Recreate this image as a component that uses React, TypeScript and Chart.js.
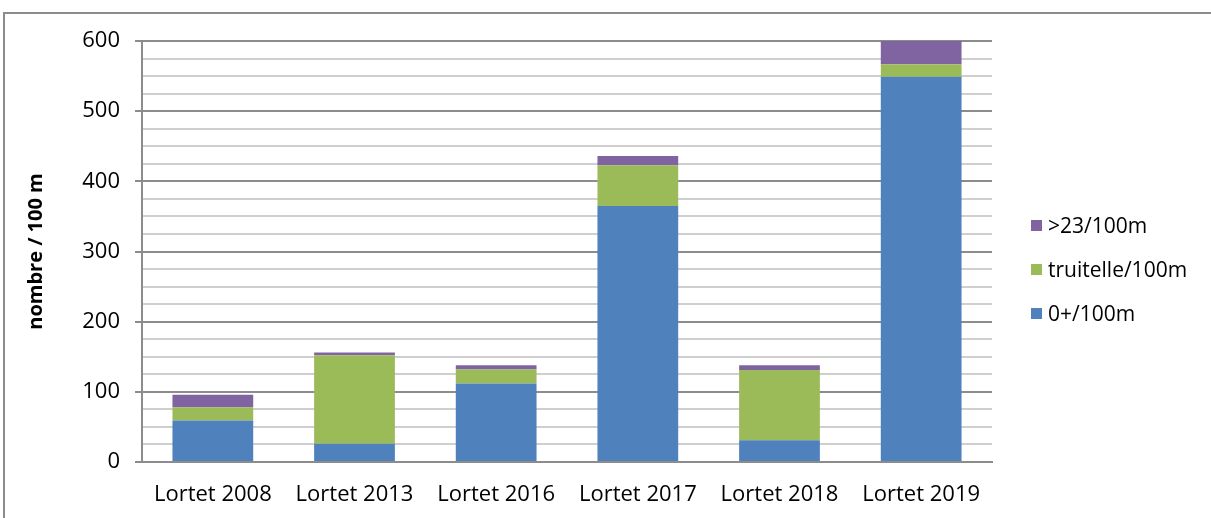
import React, { useEffect, useRef } from "react";
import { Chart, registerables } from "chart.js";

Chart.register(...registerables);

const categories = ["Lortet 2008", "Lortet 2013", "Lortet 2016", "Lortet 2017", "Lortet 2018", "Lortet 2019"];
const juvenile = [59, 26, 112, 365, 31, 549];
const truitelle = [19, 126, 20, 58, 100, 18];
const adults = [18, 4, 6, 13, 7, 33];
const seriesNames = ["0+/100m", "truitelle/100m", ">23/100m"];
const seriesColors = ["#4F81BD", "#9BBB59", "#8064A2"];
const yTitle = "nombre / 100 m";

const FONT = "'Open Sans', 'Noto Sans', sans-serif";

export default function App() {
  const ref = useRef<HTMLCanvasElement | null>(null);

  useEffect(() => {
    if (!ref.current) return;
    const chart = new Chart(ref.current, {
      type: "bar",
      data: {
        labels: categories,
        datasets: [
          { label: seriesNames[0], data: juvenile, backgroundColor: seriesColors[0] },
          { label: seriesNames[1], data: truitelle, backgroundColor: seriesColors[1] },
          { label: seriesNames[2], data: adults, backgroundColor: seriesColors[2] },
        ],
      },
      options: {
        animation: false,
        responsive: false,
        layout: { padding: { left: 24, right: 219, top: 41, bottom: 0 } },
        datasets: { bar: { categoryPercentage: 1, barPercentage: 0.57 } },
        plugins: { legend: { display: false }, tooltip: { enabled: false } },
        scales: {
          x: {
            stacked: true,
            grid: { display: false, drawTicks: false },
            border: { color: "#8c8c8c", width: 2 },
            ticks: { color: "#000", font: { family: FONT, size: 22 }, padding: 20, maxRotation: 0 },
            afterFit: (s: any) => { s.height = 56; },
          },
          y: {
            stacked: true,
            min: 0,
            max: 600,
            border: { color: "#8c8c8c", width: 2 },
            grid: {
              color: (c: any) => (c.tick && c.tick.value % 100 === 0 ? "#8c8c8c" : "#cfcfcf"),
              lineWidth: 2,
              tickLength: 7,
              tickColor: (c: any) => (c.tick && c.tick.value % 100 === 0 ? "#8c8c8c" : "rgba(0,0,0,0)"),
            },
            ticks: {
              stepSize: 25,
              autoSkip: false,
              color: "#000",
              padding: 15,
              font: { family: FONT, size: 22 },
              callback: (v: any) => (Number(v) % 100 === 0 ? String(v) : ""),
            },
            title: {
              display: true,
              text: yTitle,
              color: "#000",
              font: { family: FONT, size: 20, weight: "bold" },
              padding: { top: 0, bottom: 0 },
            },
            afterFit: (s: any) => { s.width = 118; },
          },
        },
      },
    });
    return () => chart.destroy();
  }, []);

  const legendRows = [2, 1, 0];
  return (
    <div style={{ position: "fixed", left: 0, top: 0, width: 1211, height: 518, background: "#fff", overflow: "hidden" }}>
      <div style={{ position: "absolute", left: 3, top: 12, width: 1400, height: 700, border: "2px solid #8c8c8c", boxSizing: "border-box" }} />
      <canvas ref={ref} width={1211} height={518} style={{ position: "absolute", left: 0, top: 0 }} />
      {legendRows.map((i, k) => (
        <div key={i} style={{ position: "absolute", left: 1031, top: 225 + k * 44 - 15, height: 30, display: "flex", alignItems: "center", fontFamily: FONT, fontSize: 21, color: "#000", whiteSpace: "nowrap" }}>
          <span style={{ display: "inline-block", width: 11, height: 11, background: seriesColors[i], marginRight: 6 }} />
          <span>{seriesNames[i]}</span>
        </div>
      ))}
    </div>
  );
}
